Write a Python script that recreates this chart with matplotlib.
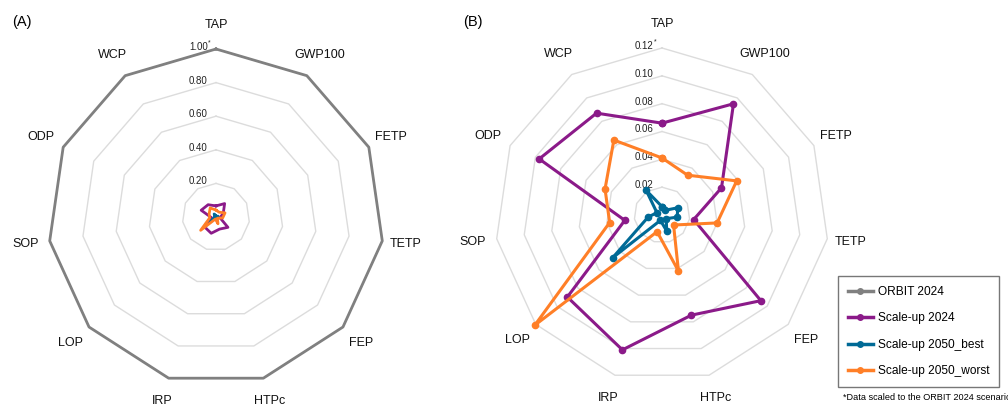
import numpy as np
import matplotlib.pyplot as plt
from matplotlib.lines import Line2D

plt.rcParams['font.family'] = ['Liberation Sans', 'DejaVu Sans']

# impact categories, clockwise from the top
categories = ['TAP', 'GWP100', 'FETP', 'TETP', 'FEP', 'HTPc', 'IRP', 'LOP', 'SOP', 'ODP', 'WCP']

# values scaled to ORBIT 2024 (= 1)
orbit_2024 = [1.0, 1.0, 1.0, 1.0, 1.0, 1.0, 1.0, 1.0, 1.0, 1.0, 1.0]
scaleup_2024 = [0.066, 0.095, 0.047, 0.023, 0.094, 0.075, 0.101, 0.090, 0.027, 0.097, 0.087]
scaleup_2050_best = [0.006, 0.004, 0.0125, 0.011, 0.004, 0.012, 0.004, 0.047, 0.010, 0.004, 0.021]
scaleup_2050_worst = [0.041, 0.034, 0.059, 0.040, 0.011, 0.042, 0.0125, 0.121, 0.038, 0.045, 0.064]

series_names = ['ORBIT 2024', 'Scale-up 2024', 'Scale-up 2050_best', 'Scale-up 2050_worst']
series_colors = ['#808080', '#8b1a89', '#006a96', '#ff7f27']

ticks_a = [0.2, 0.4, 0.6, 0.8, 1.0]
ticks_b = [0.02, 0.04, 0.06, 0.08, 0.10, 0.12]

angles = np.linspace(0, 2 * np.pi, len(categories), endpoint=False)


def closed(vals):
    vals = list(vals)
    return np.append(angles, angles[0]), vals + vals[:1]


def radar(ax, rmax, ticks, series, markers):
    ax.set_theta_zero_location('N')
    ax.set_theta_direction(-1)
    ax.set_ylim(0, rmax)
    ax.axis('off')

    # polygon grid rings
    for t in ticks:
        th, rr = closed([t] * len(categories))
        ax.plot(th, rr, color='#dcdcdc', lw=1.0, zorder=1, clip_on=False)

    # tick labels along the TAP axis
    for i, t in enumerate(ticks):
        ax.annotate(f'{t:.2f}', xy=(0, t), xytext=(-6, 1.5), textcoords='offset points',
                    ha='right', va='center', fontsize=7, color='#222222')
        if i == len(ticks) - 1:
            ax.annotate('*', xy=(0, t), xytext=(-6, 4.5), textcoords='offset points',
                        ha='left', va='center', fontsize=5, color='#222222')

    # category labels
    for a, c in zip(angles, categories):
        ax.text(a, rmax * 1.143, c, ha='center', va='center', fontsize=9, color='#111111')

    for vals, col in series:
        th, rr = closed(vals)
        if markers:
            ax.plot(th, rr, color=col, lw=2.2, marker='o', markersize=4.5, zorder=3, clip_on=False)
        else:
            ax.plot(th, rr, color=col, lw=2.0, zorder=3, clip_on=False)


fig = plt.figure(figsize=(10.08, 4.05), dpi=100)
W, H = 1008, 405

# panel A: center (216, 217) px, radius 168 px
axA = fig.add_axes([(216 - 168) / W, 1 - (217 + 168) / H, 336 / W, 336 / H], projection='polar')
radar(axA, 1.0, ticks_a,
      [(orbit_2024, series_colors[0]), (scaleup_2024, series_colors[1]),
       (scaleup_2050_best, series_colors[2]), (scaleup_2050_worst, series_colors[3])],
      markers=False)

# panel B: center (662, 215) px, radius 167 px
axB = fig.add_axes([(662 - 167) / W, 1 - (215 + 167) / H, 334 / W, 334 / H], projection='polar')
radar(axB, 0.12, ticks_b,
      [(scaleup_2024, series_colors[1]), (scaleup_2050_best, series_colors[2]),
       (scaleup_2050_worst, series_colors[3])],
      markers=True)

fig.text(22 / W, 1 - 22 / H, '(A)', fontsize=10.5, ha='center', va='center')
fig.text(473 / W, 1 - 22 / H, '(B)', fontsize=10.5, ha='center', va='center')

handles = [Line2D([], [], color=c, lw=2.5, marker='o', markersize=4) for c in series_colors]
leg = fig.legend(handles, series_names, loc='lower left', bbox_to_anchor=(838 / W, 1 - 387 / H),
                 frameon=True, fancybox=False, edgecolor='#555555', fontsize=8.6,
                 labelspacing=1.22, borderpad=0.8, handlelength=2.1, handletextpad=0.45,
                 borderaxespad=0)
leg.get_frame().set_linewidth(1.0)

fig.text(843 / W, 1 - 398 / H, '*Data scaled to the ORBIT 2024 scenario', fontsize=6.6,
         ha='left', va='center')

fig.savefig('out.png', dpi=100)
